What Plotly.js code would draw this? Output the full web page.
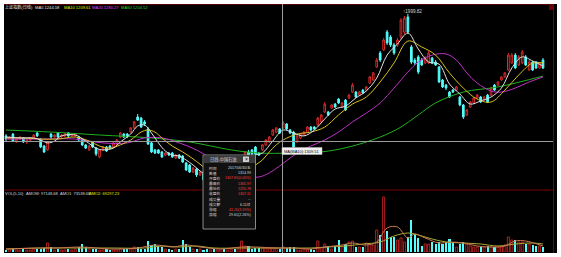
<!DOCTYPE html>
<html><head><meta charset="utf-8">
<script src="https://cdn.plot.ly/plotly-3.0.1.min.js"></script>
<style>html,body{margin:0;padding:0;background:#fff;overflow:hidden}#chart{width:561px;height:257px}</style>
</head><body><div id="chart"></div>
<script>
// ---- daily candles (index 0..155) ----
const openP = [1337,1320,1347,1309,1320,1326,1304,1315,1326,1353,
1315,1282,1261,1347,1331,1353,1331,1337,1353,1337,
1337,1331,1315,1288,1261,1304,1271,1223,1261,1277,
1282,1277,1288,1331,1347,1347,1358,1380,1440,1434,
1413,1375,1299,1261,1261,1250,1233,1244,1244,1217,
1233,1228,1190,1179,1141,1157,1125,1141,1098,1065,
1087,1060,1081,1103,1087,1114,1136,1114,1152,1228,
1250,1261,1277,1244,1261,1288,1304,1342,1358,1375,
1380,1402,1369,1358,1304,1326,1342,1358,1385,1385,
1396,1413,1467,1467,1489,1510,1537,1494,1532,1543,
1575,1575,1559,1586,1586,1624,1641,1711,1787,1804,
1901,1874,1831,1831,1874,1901,1983,1820,1749,1766,
1749,1733,1733,1760,1738,1711,1641,1613,1575,1586,
1586,1548,1505,1451,1494,1516,1543,1548,1532,1559,
1559,1613,1613,1641,1657,1695,1733,1776,1722,1733,
1766,1695,1738,1738,1706,1749];
const highP = [1347,1337,1353,1326,1337,1331,1320,1331,1347,1358,
1326,1288,1309,1353,1347,1358,1347,1353,1358,1347,
1353,1337,1320,1293,1288,1309,1277,1266,1282,1282,
1288,1304,1320,1358,1353,1353,1385,1418,1456,1440,
1423,1385,1304,1266,1266,1255,1250,1250,1250,1239,
1239,1233,1195,1185,1168,1163,1147,1147,1103,1092,
1092,1087,1109,1109,1119,1141,1141,1157,1212,1255,
1261,1266,1282,1250,1293,1320,1337,1375,1385,1380,
1418,1407,1375,1364,1342,1353,1364,1391,1391,1391,
1440,1456,1521,1472,1510,1516,1543,1521,1537,1565,
1624,1581,1581,1592,1608,1662,1684,1760,1798,1869,
1912,1885,1842,1869,1977,1988,1999.82,1831,1760,1776,
1760,1771,1798,1766,1749,1717,1646,1619,1581,1592,
1608,1554,1510,1483,1527,1548,1565,1554,1554,1565,
1603,1619,1635,1662,1684,1787,1787,1787,1776,1804,
1776,1749,1744,1744,1738,1760];
const lowP = [1309,1315,1304,1299,1315,1299,1293,1309,1320,1331,
1271,1244,1255,1320,1326,1326,1326,1331,1331,1331,
1331,1309,1282,1266,1255,1271,1228,1217,1255,1250,
1266,1271,1282,1326,1326,1326,1353,1375,1418,1380,
1391,1288,1244,1239,1239,1217,1228,1228,1217,1212,
1212,1190,1147,1136,1136,1114,1119,1092,1065,1060,
1054,1054,1076,1081,1081,1109,1109,1109,1147,1217,
1228,1233,1233,1228,1255,1282,1299,1337,1353,1347,
1375,1369,1347,1271,1299,1320,1337,1353,1364,1369,
1391,1407,1461,1445,1483,1489,1510,1489,1472,1537,
1570,1543,1554,1565,1581,1619,1635,1706,1738,1798,
1831,1820,1776,1820,1863,1890,1890,1727,1722,1673,
1717,1727,1727,1727,1717,1624,1597,1586,1543,1570,
1581,1499,1429,1445,1489,1510,1537,1516,1527,1516,
1554,1581,1608,1635,1651,1690,1727,1700,1717,1727,
1717,1690,1690,1700,1700,1700];
const closeP = [1320,1331,1309,1320,1331,1304,1315,1326,1342,1337,
1277,1250,1304,1331,1342,1331,1342,1347,1337,1342,
1347,1315,1288,1271,1282,1277,1239,1261,1277,1255,
1271,1299,1315,1353,1331,1331,1380,1413,1423,1385,
1402,1293,1250,1244,1244,1223,1244,1233,1223,1233,
1217,1195,1152,1141,1163,1125,1141,1098,1071,1087,
1060,1081,1103,1087,1114,1136,1114,1152,1206,1250,
1233,1239,1239,1233,1288,1315,1331,1369,1380,1353,
1407,1375,1353,1277,1337,1347,1358,1385,1369,1375,
1434,1451,1510,1451,1505,1494,1516,1516,1478,1559,
1613,1548,1575,1570,1603,1657,1679,1749,1749,1858,
1842,1831,1787,1858,1966,1977,1901,1738,1733,1684,
1722,1760,1787,1733,1722,1630,1603,1597,1548,1575,
1603,1505,1440,1478,1521,1543,1559,1521,1548,1521,
1597,1586,1630,1657,1679,1776,1776,1706,1766,1793,
1722,1738,1695,1706,1733,1706];
// volume (万手)
const volume = [2,3,3,2,2,3,2,2,3,3,
3,4,9,5,2,3,2,2,3,2,
3,5,8,5,3,3,3,2,2,3,
2,2,2,3,3,3,3,5,5,3,
3,11,7,8,6,5,3,3,2,3,
3,12,8,5,3,3,3,2,3,2,
3,2,2,3,2,3,3,3,11,6,
6,3,4,4,4,4,4,4,4,3,
5,4,5,5,2,2,3,3,3,2,
11,4,8,6,3,6,12,6,8,10,
11,5,5,5,9,8,7,22,17,55,
21,15,15,12,14,10,15,32,18,14,
6,8,8,10,8,10,8,10,13,10,
5,8,10,8,6,5,5,5,5,6,
5,5,5,5,7,15,12,12,10,10,
8,8,7,6,6,5];
// moving-average lines (candle index, value)
const ma5Idx = [0,4,8,10,12,14,16,20,23,26,28,31,33,36,38,40,42,44,46,48,50,52,54,56,58,60,62,64,66,68,70,72,74,77,80,83,86,89,92,95,98,101,104,107,110,113,116,119,122,125,128,131,134,137,140,143,146,149,152,155];
const ma5Val = [1331,1326,1326,1315,1299,1309,1337,1342,1309,1271,1261,1271,1304,1347,1391,1396,1353,1299,1255,1233,1228,1206,1179,1147,1119,1092,1081,1087,1109,1147,1190,1233,1244,1309,1369,1353,1337,1369,1429,1483,1499,1543,1581,1651,1776,1836,1896,1809,1738,1727,1619,1565,1510,1527,1548,1597,1706,1766,1744,1717];
const ma10Idx = [0,5,10,15,20,24,27,30,33,36,39,41,43,45,48,51,54,56,58,60,62,64,66,68,70,72,74,76,78,80,84,88,92,96,100,104,108,112,116,120,124,128,132,136,140,144,148,152,155];
const ma10Val = [1326,1326,1320,1320,1331,1309,1282,1271,1288,1315,1358,1369,1358,1326,1282,1250,1212,1184,1152,1125,1108,1098,1092,1114,1147,1179,1206,1250,1288,1315,1347,1358,1385,1451,1510,1548,1630,1733,1852,1820,1776,1679,1597,1537,1521,1586,1668,1733,1733];
const ma20Idx = [0,10,20,28,35,40,45,50,55,60,65,69,73,76,79,82,85,88,92,96,100,104,108,112,116,119,123,127,130,133,136,140,143,147,151,155];
const ma20Val = [1320,1320,1320,1299,1299,1326,1326,1299,1261,1206,1152,1119,1114,1136,1174,1217,1255,1282,1315,1358,1413,1461,1516,1597,1684,1738,1776,1782,1749,1679,1624,1581,1575,1597,1630,1657];
const ma60Idx = [0,13,27,42,53,65,73,82,91,99,108,114,119,124,132,142,155];
const ma60Val = [1369,1358,1342,1326,1304,1261,1244,1244,1250,1277,1331,1385,1451,1516,1575,1603,1662];
const volMa5Idx = [0,10,15,22,30,38,43,48,52,56,62,68,72,78,83,88,92,97,100,104,107,110,113,116,118,121,125,128,132,136,140,144,147,150,155];
const volMa5Val = [3,4,4,5,3,4,7,5,7,5,3,5,5,4,4,3,5,7,9,7,10,24,25,14,18,14,9,10,9,6,5,6,11,11,6];
const volMa10Idx = [0,10,20,30,40,45,50,55,60,68,75,82,88,93,98,103,108,112,116,119,123,127,132,137,142,147,152,155];
const volMa10Val = [3,4,4,4,4,6,5,6,4,4,4,4,4,5,6,8,10,16,19,17,13,10,9,8,6,8,9,8];

const headerText = [["上证指数(日线)","#e8e8e8"],["MA5 1244.58","#e8e8e8"],["MA10 1209.61","#e8e800"],["MA20 1280.27","#e040e0"],["MA60 1204.52","#30d030"]];
const volText = [["VOL(5,10)","#d8d8d8"],["AMOW: 97148.68","#d8d8d8"],["AMO1: 73538.68","#d8d8d8"],["AMO2: 69297.23","#e8e800"]];
const tipTitle = "日线-中国石油";
const tipLabels = ["时间","数值","开盘价","最高价","最低价","收盘价","成交量","成交额","涨幅","振幅"];
const tipValues = ["2017/06/30/五","1314.99","1307.81(0.06%)","1365.97","1255.78","1307.11","--","6.11亿","41.20(3.19%)","29.61(2.26%)"];
const tipRed = [false,false,true,true,true,true,false,false,true,false];
const crossLabel = "MA(MA10):1309.51";
const maxLabel = "↑1999.82";

// ---- layout helpers (pixel -> paper) ----
const W=561,H=257,L=4,R=4,T=4,B=4;
const px = x => (x-L)/(W-L-R);
const py = y => (H-B-y)/(H-T-B);
const FONT = "Liberation Sans, Noto Sans CJK SC, sans-serif";
const RED = "#d82a2a", CYAN = "#54fcfc";

const idx = closeP.map((_,i)=>i);
const up = idx.filter(i=>closeP[i]>=openP[i]);
const dn = idx.filter(i=>closeP[i]<openP[i]);

const traces = [
 {type:"candlestick", x:idx, open:openP, high:highP, low:lowP, close:closeP, xaxis:"x", yaxis:"y",
  increasing:{line:{color:RED,width:1}, fillcolor:"rgba(0,0,0,0)"},
  decreasing:{line:{color:CYAN,width:1}, fillcolor:CYAN},
  whiskerwidth:0, hoverinfo:"skip"},
 {type:"scatter", mode:"lines", x:ma60Idx, y:ma60Val, line:{color:"#20b020",width:1,shape:"spline"}, hoverinfo:"skip"},
 {type:"scatter", mode:"lines", x:ma20Idx, y:ma20Val, line:{color:"#c030c8",width:1,shape:"spline"}, hoverinfo:"skip"},
 {type:"scatter", mode:"lines", x:ma10Idx, y:ma10Val, line:{color:"#d8c020",width:1,shape:"spline"}, hoverinfo:"skip"},
 {type:"scatter", mode:"lines", x:ma5Idx, y:ma5Val, line:{color:"#e0e0e0",width:1,shape:"spline"}, hoverinfo:"skip"},
 {type:"bar", x:dn, y:dn.map(i=>volume[i]), yaxis:"y2", width:0.6, marker:{color:CYAN,line:{width:0}}, hoverinfo:"skip"},
 {type:"bar", x:up, y:up.map(i=>volume[i]), yaxis:"y2", width:0.6, marker:{color:"rgba(0,0,0,0)",line:{color:"#b02020",width:1}}, hoverinfo:"skip"},
 {type:"scatter", mode:"lines", x:volMa10Idx, y:volMa10Val, yaxis:"y2", line:{color:"#a8a838",width:1,shape:"spline"}, hoverinfo:"skip"},
 {type:"scatter", mode:"lines", x:volMa5Idx, y:volMa5Val, yaxis:"y2", line:{color:"#c87850",width:1,shape:"spline"}, hoverinfo:"skip"}
];

const shapes = [
 {type:"rect",xref:"paper",yref:"paper",x0:0,x1:1,y0:0,y1:1,fillcolor:"#000",line:{width:0},layer:"below"},
 {type:"line",xref:"paper",yref:"paper",x0:0,x1:px(553),y0:py(190),y1:py(190),line:{color:"#7a0000",width:1}},
 {type:"line",xref:"paper",yref:"paper",x0:px(553.5),x1:px(553.5),y0:0,y1:1,line:{color:"#7a0000",width:1}},
 {type:"line",xref:"paper",yref:"paper",x0:0,x1:px(553.5),y0:py(4.5),y1:py(4.5),line:{color:"#5a0000",width:1}},
 {type:"rect",xref:"paper",yref:"paper",x0:px(549),x1:px(553),y0:py(10),y1:py(5),fillcolor:"#6a0000",line:{width:0}},
 // crosshair
 {type:"line",xref:"paper",yref:"paper",x0:px(282.5),x1:px(282.5),y0:0,y1:1,line:{color:"#9a9a9a",width:1}},
 {type:"line",xref:"paper",yref:"paper",x0:0,x1:px(553),y0:py(141.5),y1:py(141.5),line:{color:"#9a9a9a",width:1}},
 {type:"rect",xref:"paper",yref:"paper",x0:px(282),x1:px(322),y0:py(154.5),y1:py(147.5),fillcolor:"#f0f0f0",line:{color:"#c0c0c0",width:0.5}},
 // tooltip panel
 {type:"rect",xref:"paper",yref:"paper",x0:px(203),x1:px(255.5),y0:py(229),y1:py(155),fillcolor:"#111111",line:{color:"#8a8a8a",width:1}},
 {type:"rect",xref:"paper",yref:"paper",x0:px(203.5),x1:px(255),y0:py(163),y1:py(155.5),fillcolor:"#3a3a3a",line:{width:0}},
 {type:"rect",xref:"paper",yref:"paper",x0:px(243),x1:px(249),y0:py(162),y1:py(156.5),fillcolor:"#d0d0d0",line:{width:0}}
];

const ann = [];
const addText = (t,x,y,color,size,anchor) => ann.push({xref:"paper",yref:"paper",x:px(x),y:py(y),text:t,showarrow:false,
  xanchor:anchor||"left",yanchor:"middle",font:{family:FONT,size:size||5,color:color},borderpad:0});
const headerX = [4,34,63,91,120];
headerText.forEach((h,k)=>addText(h[0],headerX[k],7.5,h[1],4.1));
const volX = [4,25,59,88];
volText.forEach((h,k)=>addText(h[0],volX[k],193.5,h[1],4.0));
addText(crossLabel,283,151,"#000000",4.0);
addText(maxLabel,402,12,"#d8d8d8",4.6);
addText(tipTitle,209,159.2,"#d8d8d8",4.2);
addText("×",246,159.2,"#000000",5,"center");
tipLabels.forEach((t,k)=>{
  const y = 168 + k*5.2;
  addText(t,208,y,"#d8d8d8",3.8);
  addText(tipValues[k],252,y,tipRed[k]?"#ff3c3c":"#d8d8d8",3.6,"right");
});

const layout = {
 width:W,height:H,margin:{l:L,r:R,t:T,b:B,pad:0},
 paper_bgcolor:"#ffffff",plot_bgcolor:"#000000",showlegend:false,
 bargap:0,
 xaxis:{range:[-0.577,159.04],visible:false,fixedrange:true,rangeslider:{visible:false},anchor:"y"},
 yaxis:{domain:[py(189),1],range:[1048.8,2053.3],visible:false,fixedrange:true},
 yaxis2:{domain:[py(252),py(196)],range:[0,56],visible:false,fixedrange:true,anchor:"x"},
 shapes:shapes,annotations:ann
};
Plotly.newPlot("chart",traces,layout,{staticPlot:true,displayModeBar:false});
</script></body></html>
